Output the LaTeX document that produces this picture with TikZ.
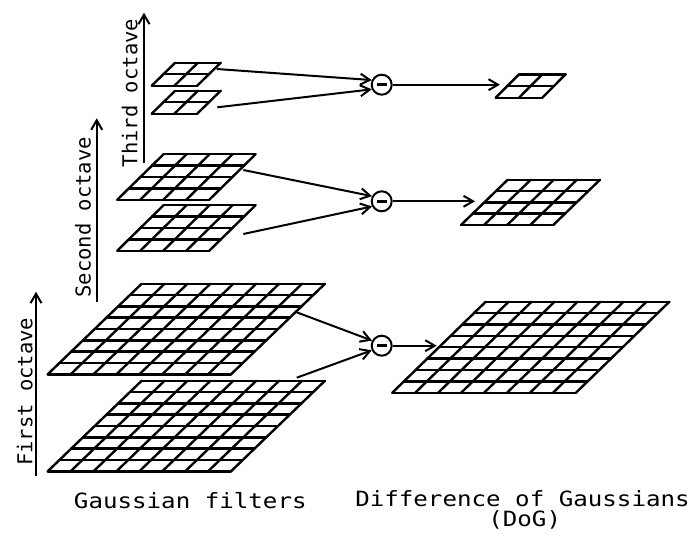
\documentclass[tikz,border=0pt]{standalone}
\usepackage{fontspec}
\newfontfamily\axisfont{DejaVu Sans Mono}
\newfontfamily\capfont[FakeStretch=1.15]{DejaVu Sans Mono}
\usetikzlibrary{arrows.meta}

\tikzset{
  gridline/.style={line width=2.4pt, line cap=round, line join=round},
  conn/.style={line width=2pt, -{Straight Barb[length=9.5pt,width=11pt,line width=2pt]}},
  minus/.style={circle, draw, line width=2pt, minimum size=20pt, inner sep=0pt},
  axislabel/.style={rotate=90, anchor=base, inner sep=0pt, font=\axisfont\fontsize{20.5}{22}\selectfont},
  caption/.style={anchor=base, inner sep=0pt, font=\capfont\fontsize{21}{20}\selectfont},
  % sheared grid: #1 cells per side, #2 width, #3 height, #4 shear of the top edge
  pics/sheargrid/.style n args={4}{code={
    \foreach \i in {0,...,#1}{
      \draw[gridline] ({\i*#4/#1},{-\i*#3/#1}) -- ++(#2,0);
      \draw[gridline] ({\i*#2/#1},0) -- ++(#4,-#3);
    }
  }}
}

\begin{document}
\begin{tikzpicture}[x=1pt, y=-1pt]
\useasboundingbox (0,0) rectangle (692,543);

% Gaussian-filtered images, one pair per octave
\pic at (47.7,471.3) {sheargrid={8}{183.3}{90.6}{94}};
\pic at (47.7,374.3) {sheargrid={8}{183.3}{90.6}{94}};
\pic at (117.3,250.7) {sheargrid={4}{92}{45.5}{46.3}};
\pic at (117.3,199.7) {sheargrid={4}{92}{45.5}{46.3}};
\pic at (151.7,113.7) {sheargrid={2}{45.5}{23}{23.5}};
\pic at (151.7,85.7) {sheargrid={2}{45.5}{23}{23.5}};

% difference-of-Gaussian images
\pic at (392.3,392.7) {sheargrid={8}{183.7}{91}{93.4}};
\pic at (461,225) {sheargrid={4}{92.3}{45.3}{46.7}};
\pic at (495.7,97.7) {sheargrid={2}{46.6}{23.4}{23.3}};

% subtraction nodes
\node[minus] (m1) at (381.7,345.7) {\rule[-1.75pt]{10pt}{3.5pt}};
\node[minus] (m2) at (381.7,201.3) {\rule[-1.75pt]{10pt}{3.5pt}};
\node[minus] (m3) at (381.7,84.7) {\rule[-1.75pt]{10pt}{3.5pt}};

% connector end points on the images
\coordinate (s1a) at (296.7,312.3);
\coordinate (s1b) at (296.7,377.7);
\coordinate (s2a) at (243.3,170);
\coordinate (s2b) at (243.3,234);
\coordinate (s3a) at (216.7,69);
\coordinate (s3b) at (217.3,107.3);
\coordinate (d1) at (436.7,345.7);
\coordinate (d2) at (475,201.3);
\coordinate (d3) at (500,84.7);

\draw[conn] (s1a) -- (m1.152);
\draw[conn] (s1b) -- (m1.205);
\draw[conn] (s2a) -- (m2.152);
\draw[conn] (s2b) -- (m2.208);
\draw[conn] (s3a) -- (m3.155);
\draw[conn] (s3b) -- (m3.205);
\draw[conn] (m1) -- (d1);
\draw[conn] (m2) -- (d2);
\draw[conn] (m3) -- (d3);

% octave axes
\coordinate (a1s) at (36,475.7);   \coordinate (a1e) at (36,291.7);
\coordinate (a2s) at (96.7,302.3); \coordinate (a2e) at (96.7,118.3);
\coordinate (a3s) at (144,162.7);  \coordinate (a3e) at (144,12.7);
\draw[conn] (a1s) -- (a1e);
\draw[conn] (a2s) -- (a2e);
\draw[conn] (a3s) -- (a3e);

\node[axislabel] (l1) at (32.3,391.7) {First octave};
\node[axislabel] (l2) at (90.7,217.3) {Second octave};
\node[axislabel] (l3) at (137.3,93) {Third octave};

% captions
\node[caption] (cg) at (190.3,508.3) {Gaussian filters};
\node[caption] (cd) at (522.5,506) {Difference of Gaussians};
\node[caption] (cdog) at (524.7,526) {(DoG)};
\end{tikzpicture}
\end{document}
